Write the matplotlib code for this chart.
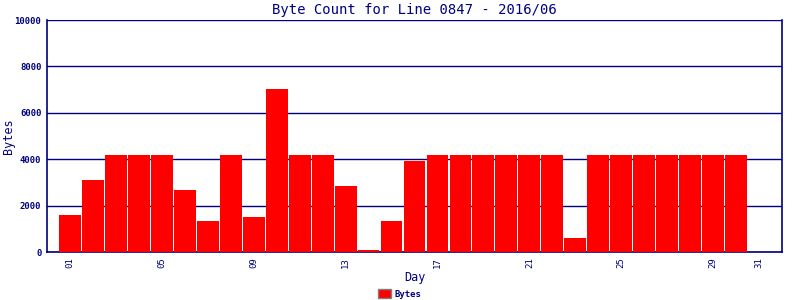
import matplotlib
matplotlib.use('Agg')
import matplotlib.pyplot as plt
from matplotlib.patches import Patch

days = list(range(1, 32))
byte_counts = [1600, 3100, 4180, 4180, 4180, 2670, 1340, 4180, 1510, 7020,
               4180, 4180, 2850, 90, 1340, 3920, 4180, 4180, 4180, 4180,
               4180, 4180, 600, 4180, 4180, 4180, 4180, 4180, 4180, 4180, 0]
tick_days = [1, 5, 9, 13, 17, 21, 25, 29, 31]
y_ticks = [0, 2000, 4000, 6000, 8000, 10000]

navy = '#000080'
plt.rcParams['font.family'] = ['DejaVu Sans Mono']

fig = plt.figure(figsize=(8, 3), dpi=100)
ax = fig.add_axes([47 / 800, 48 / 300, 735 / 800, 232 / 300])

ax.bar(days, byte_counts, width=0.95, color='#ff0000', linewidth=0, zorder=3)

ax.set_xlim(0, 32)
ax.set_ylim(0, 10000)
ax.set_yticks(y_ticks)
ax.set_yticklabels([str(v) for v in y_ticks], fontsize=6.5, fontweight='bold', color=navy)
ax.set_xticks(tick_days)
ax.set_xticklabels(['%02d' % d for d in tick_days], rotation=90, fontsize=6.5, color=navy)
ax.tick_params(axis='both', length=0, pad=4, colors=navy)
ax.yaxis.grid(True, color=navy, linewidth=1.0, zorder=1)
ax.set_axisbelow(True)
for s in ax.spines.values():
    s.set_color(navy)
    s.set_linewidth(1.2)
ax.spines['top'].set_visible(False)

ax.set_title('Byte Count for Line 0847 - 2016/06', fontsize=10, color=navy, pad=4)
ax.set_xlabel('Day', fontsize=8.5, color=navy, labelpad=2)
ax.set_ylabel('Bytes', fontsize=8.5, color=navy)
ax.yaxis.set_label_coords((15 - 47) / 735, 0.5)

handle = Patch(facecolor='#ff0000', edgecolor='#808080', label='Bytes')
leg = fig.legend(handles=[handle], loc='center', bbox_to_anchor=(0.5, 1 - 294 / 300),
                 frameon=False, fontsize=6.5, handlelength=1.4, handleheight=1.0,
                 handletextpad=0.4, borderpad=0)
for t in leg.get_texts():
    t.set_color(navy)
    t.set_fontweight('bold')

fig.savefig('out.png', dpi=100)
